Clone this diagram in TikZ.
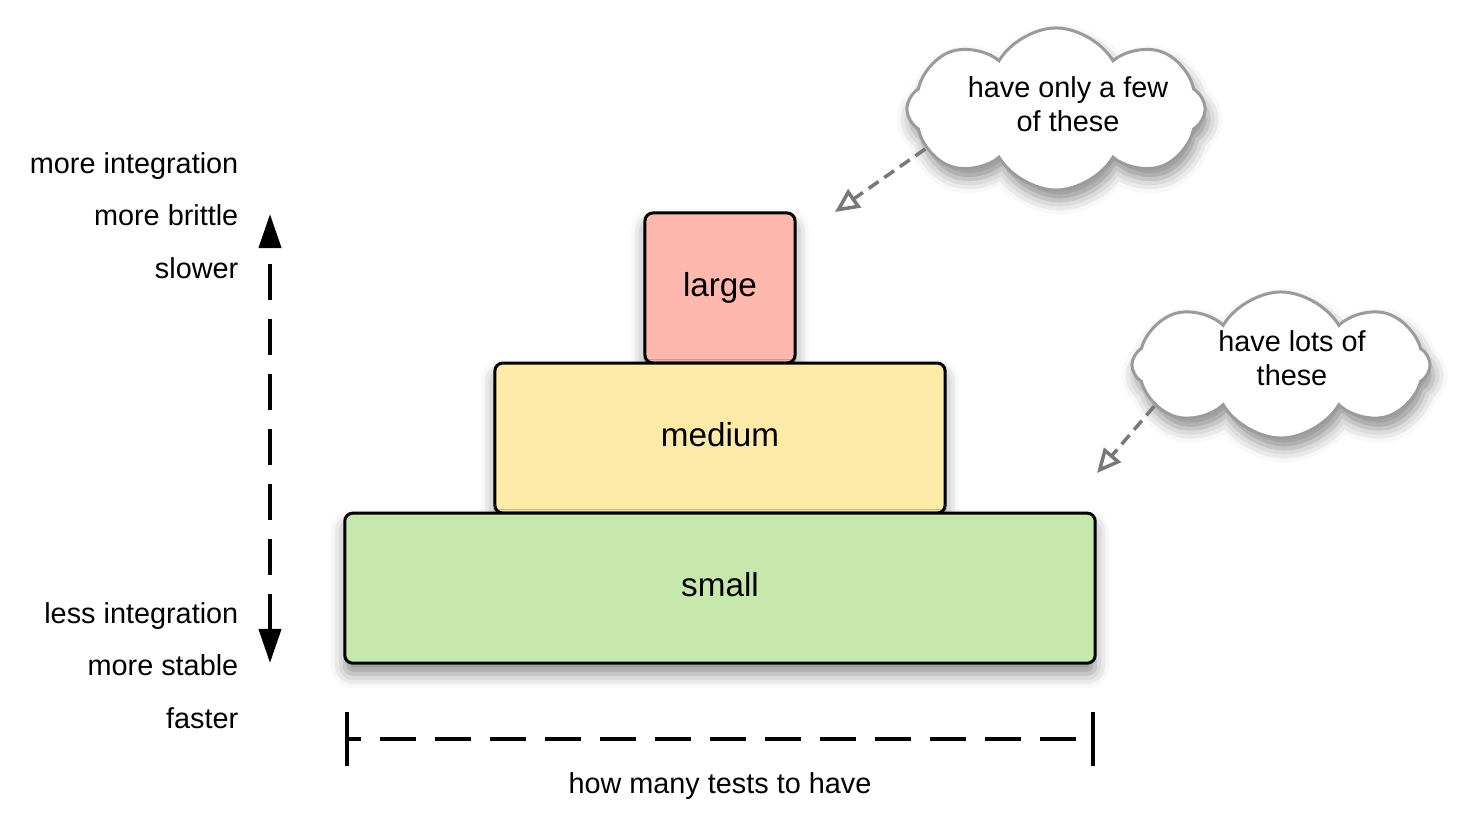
\documentclass[tikz,border=0pt]{standalone}
\usepackage{fontspec}
\setmainfont{Liberation Sans}
\usetikzlibrary{positioning,arrows.meta,shapes.symbols,shadows.blur}
\definecolor{largefill}{RGB}{254,184,174}
\definecolor{mediumfill}{RGB}{253,234,168}
\definecolor{smallfill}{RGB}{199,232,172}
\definecolor{cloudline}{RGB}{155,155,155}
\definecolor{hintgray}{RGB}{120,120,120}
\begin{document}
\begin{tikzpicture}[x=0.01cm,y=-0.01cm,
	tier/.style={draw,line width=0.03cm,rounded corners=0.08cm,outer sep=0pt,
		minimum height=1.5cm,text height=0.72em,text depth=0.25em,font=\fontsize{9.45}{11}\selectfont,
		blur shadow={shadow xshift=0pt,shadow yshift=-3pt,shadow blur radius=4pt,shadow opacity=45}},
	side/.style={anchor=east,inner sep=0pt,text height=0.72em,text depth=0.21em,font=\fontsize{8.2}{9.7}\selectfont},
	note/.style={cloud,cloud puffs=8,cloud puff arc=120,draw=cloudline,
		line width=0.03cm,fill=white,inner sep=0pt,minimum width=2.98cm,
		blur shadow={shadow xshift=1pt,shadow yshift=-3pt,shadow blur radius=4pt,shadow opacity=45}},
	notetext/.style={align=center,inner sep=0pt,font=\fontsize{8.2}{9.7}\selectfont},
	axis/.style={line width=0.04cm,dash pattern=on 0.36cm off 0.19cm},
	hint/.style={draw=hintgray,line width=0.035cm,dash pattern=on 0.12cm off 0.07cm,
		-{Triangle[open,width=0.22cm,length=0.24cm]}}]
	\useasboundingbox (0,0) rectangle (1460,825);
	\node[tier,fill=largefill,minimum width=1.5cm] (large) at (720,288) {large};
	\node[tier,fill=mediumfill,minimum width=4.5cm,below=0pt of large] (medium) {medium};
	\node[tier,fill=smallfill,minimum width=7.5cm,below=0pt of medium] (small) {small};
	\node[side] (moreint) at (239,165) {more integration};
	\node[side] (brittle) at (239,217) {more brittle};
	\node[side] (slower) at (239,270) {slower};
	\node[side] (lessint) at (239,615) {less integration};
	\node[side] (stable) at (239,667) {more stable};
	\node[side] (faster) at (239,720) {faster};
	\coordinate (slowtip) at (270,214);
	\coordinate (fasttip) at (270,663);
	\draw[axis,{Triangle[width=0.22cm,length=0.34cm]}-{Triangle[width=0.22cm,length=0.34cm]}] (fasttip) -- (slowtip);
	\coordinate (fewend) at (347,739);
	\coordinate (manyend) at (1093,739);
	\draw[line width=0.04cm] (fewend) ++(0,-27) -- ++(0,54);
	\draw[line width=0.04cm] (manyend) ++(0,-27) -- ++(0,54);
	\draw[axis,dash phase=0.22cm] (fewend) -- (manyend);
	\node[side,anchor=center] (howmany) at (720,785) {how many tests to have};
	\node[note,minimum height=1.62cm,
		label={[notetext,xshift=0.12cm,yshift=0.05cm]center:have only a few\\of these}] (fewcloud) at (1056,109) {};
	\coordinate (fewtip) at (835,212);
	\draw[hint] (fewcloud.197) -- (fewtip);
	\node[note,minimum height=1.46cm,
		label={[notetext,xshift=0.11cm,yshift=0.07cm]center:have lots of\\these}] (lotscloud) at (1281,365) {};
	\coordinate (lotstip) at (1097,473);
	\draw[hint] (lotscloud.198) -- (lotstip);
\end{tikzpicture}
\end{document}
